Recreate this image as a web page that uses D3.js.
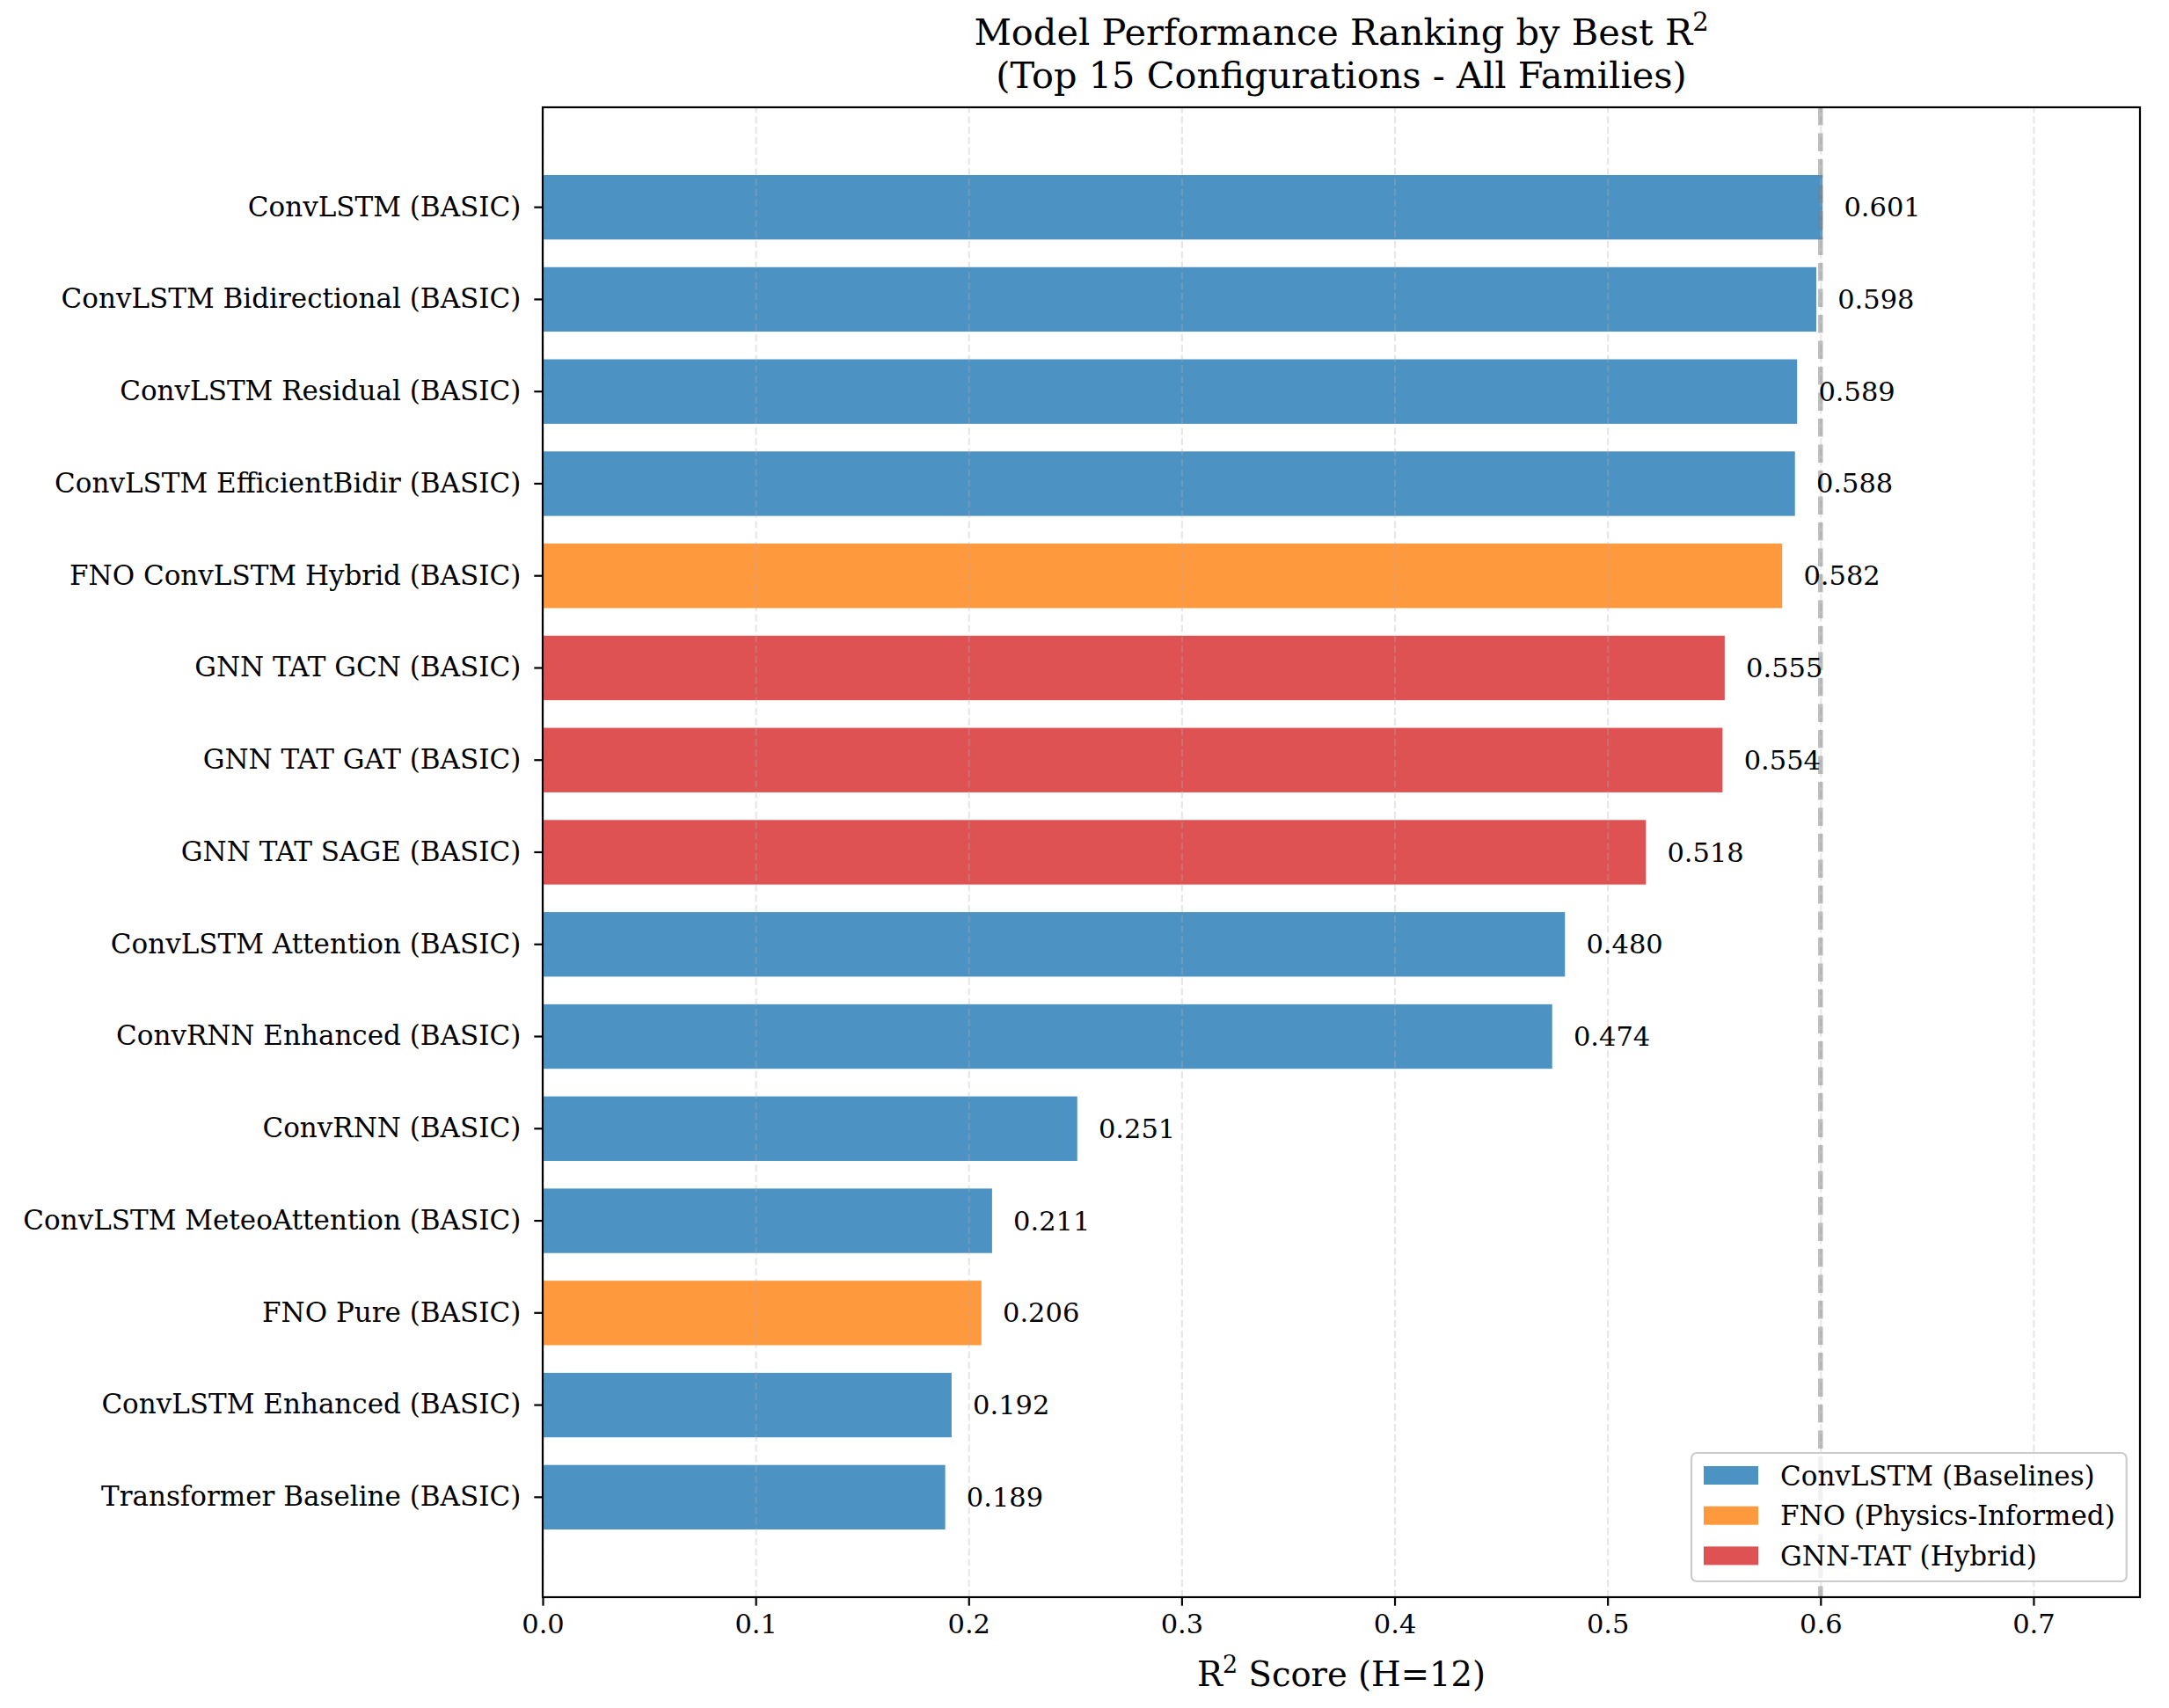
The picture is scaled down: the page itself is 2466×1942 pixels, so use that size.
<!DOCTYPE html>
<html>
<head>
<meta charset="utf-8">
<script src="https://cdn.jsdelivr.net/npm/d3@7"></script>
<style>
  body { margin: 0; background: #fff; }
  svg { display: block; font-family: "DejaVu Serif", serif; }
</style>
</head>
<body>
<div id="chart"></div>
<script>
const models = [
    "ConvLSTM (BASIC)",
    "ConvLSTM Bidirectional (BASIC)",
    "ConvLSTM Residual (BASIC)",
    "ConvLSTM EfficientBidir (BASIC)",
    "FNO ConvLSTM Hybrid (BASIC)",
    "GNN TAT GCN (BASIC)",
    "GNN TAT GAT (BASIC)",
    "GNN TAT SAGE (BASIC)",
    "ConvLSTM Attention (BASIC)",
    "ConvRNN Enhanced (BASIC)",
    "ConvRNN (BASIC)",
    "ConvLSTM MeteoAttention (BASIC)",
    "FNO Pure (BASIC)",
    "ConvLSTM Enhanced (BASIC)",
    "Transformer Baseline (BASIC)"
];
const r2Scores = [0.601, 0.598, 0.589, 0.588, 0.582, 0.555, 0.554, 0.518, 0.480, 0.474, 0.251, 0.211, 0.206, 0.192, 0.189];
const families = ["ConvLSTM", "ConvLSTM", "ConvLSTM", "ConvLSTM", "FNO", "GNN", "GNN", "GNN",
                  "ConvLSTM", "ConvLSTM", "ConvLSTM", "ConvLSTM", "FNO", "ConvLSTM", "ConvLSTM"];
const familyKeys = ["ConvLSTM", "FNO", "GNN"];
const familyLabels = ["ConvLSTM (Baselines)", "FNO (Physics-Informed)", "GNN-TAT (Hybrid)"];
const xTicks = [0.0, 0.1, 0.2, 0.3, 0.4, 0.5, 0.6, 0.7];
const refLine = 0.6;

const data = models.map((m, i) => ({ model: m, r2: r2Scores[i], family: families[i] }));

const W = 2466, H = 1942;
const plot = { left: 617, right: 2433, top: 122, bottom: 1816 };

const color = d3.scaleOrdinal()
    .domain(familyKeys)
    .range(["#4c92c3", "#ff993e", "#de5253"]);

const svg = d3.select("#chart")
    .append("svg")
    .attr("width", W)
    .attr("height", H);

svg.append("rect").attr("width", W).attr("height", H).attr("fill", "#fff");

const x = d3.scaleLinear()
    .domain([0, 0.75])
    .range([plot.left, plot.right]);

const y = d3.scaleBand()
    .domain(models)
    .range([plot.top, plot.bottom])
    .paddingInner(0.3)
    .paddingOuter(0.735);

// bars
svg.selectAll(".bar")
    .data(data)
    .enter()
    .append("rect")
    .attr("class", "bar")
    .attr("x", x(0))
    .attr("y", d => y(d.model))
    .attr("width", d => x(d.r2) - x(0))
    .attr("height", y.bandwidth())
    .attr("fill", d => color(d.family));

// grid on x, drawn over bars like matplotlib
svg.append("g")
    .attr("transform", `translate(0,${plot.bottom})`)
    .call(d3.axisBottom(x).tickValues(xTicks).tickSize(-(plot.bottom - plot.top)).tickFormat(""))
    .call(g => g.select(".domain").remove())
    .selectAll("line")
    .attr("stroke", "#b0b0b0")
    .attr("stroke-opacity", 0.3)
    .attr("stroke-width", 2.2)
    .attr("stroke-dasharray", "8.2,3.6");

// reference line at 0.6
svg.append("line")
    .attr("x1", x(refLine))
    .attr("x2", x(refLine))
    .attr("y1", plot.top)
    .attr("y2", plot.bottom)
    .attr("stroke", "#808080")
    .attr("stroke-opacity", 0.5)
    .attr("stroke-width", 5.5)
    .attr("stroke-dasharray", "20.6,8.9");

// value labels
svg.selectAll(".val")
    .data(data)
    .enter()
    .append("text")
    .attr("class", "val")
    .attr("x", d => x(d.r2 + 0.01))
    .attr("y", d => y(d.model) + y.bandwidth() / 2)
    .attr("dominant-baseline", "central")
    .attr("font-size", "30.5px")
    .attr("fill", "#000")
    .text(d => d.r2.toFixed(3));

// axes
const xAxis = svg.append("g")
    .attr("transform", `translate(0,${plot.bottom})`)
    .call(d3.axisBottom(x).tickValues(xTicks).tickFormat(d3.format(".1f")).tickSizeOuter(0).tickSize(9.7).tickPadding(9.7));
xAxis.select(".domain").remove();
xAxis.selectAll("line").attr("stroke", "#000").attr("stroke-width", 2.2);
xAxis.selectAll("text")
    .attr("font-size", "30.5px")
    .attr("font-family", "DejaVu Serif")
    .attr("fill", "#000");

const yAxis = svg.append("g")
    .attr("transform", `translate(${plot.left},0)`)
    .call(d3.axisLeft(y).tickSizeOuter(0).tickSize(9.7).tickPadding(15));
yAxis.select(".domain").remove();
yAxis.selectAll("line").attr("stroke", "#000").attr("stroke-width", 2.2);
yAxis.selectAll("text")
    .attr("font-size", "31px")
    .attr("font-family", "DejaVu Serif")
    .attr("fill", "#000");

// frame
svg.append("rect")
    .attr("x", plot.left)
    .attr("y", plot.top)
    .attr("width", plot.right - plot.left)
    .attr("height", plot.bottom - plot.top)
    .attr("fill", "none")
    .attr("stroke", "#000")
    .attr("stroke-width", 2.2);

// title
const cx = (plot.left + plot.right) / 2;
const t1 = svg.append("text")
    .attr("x", cx)
    .attr("y", 51)
    .attr("text-anchor", "middle")
    .attr("font-size", "41.5px");
t1.append("tspan").text("Model Performance Ranking by Best R");
t1.append("tspan").attr("font-size", "29px").attr("dy", -16).text("2");

svg.append("text")
    .attr("x", cx)
    .attr("y", 100)
    .attr("text-anchor", "middle")
    .attr("font-size", "41.5px")
    .text("(Top 15 Configurations - All Families)");

// x label
const xl = svg.append("text")
    .attr("x", cx)
    .attr("y", 1917)
    .attr("text-anchor", "middle")
    .attr("font-size", "38.5px");
xl.append("tspan").text("R");
xl.append("tspan").attr("font-size", "27px").attr("dy", -15).text("2");
xl.append("tspan").attr("dy", 15).text(" Score (H=12)");

// legend
const legend = svg.append("g");
legend.append("rect")
    .attr("x", 1923)
    .attr("y", 1652)
    .attr("width", 2417.7 - 1923)
    .attr("height", 1798 - 1652)
    .attr("rx", 6)
    .attr("fill", "#fff")
    .attr("fill-opacity", 0.8)
    .attr("stroke", "#cccccc")
    .attr("stroke-width", 2.2);

const item = legend.selectAll(".item")
    .data(familyKeys)
    .enter()
    .append("g")
    .attr("class", "item")
    .attr("transform", (d, i) => `translate(1937,${1677.5 + i * 45.7})`);

item.append("rect")
    .attr("x", 0)
    .attr("y", -10.5)
    .attr("width", 62)
    .attr("height", 21)
    .attr("fill", d => color(d));

item.append("text")
    .attr("x", 87)
    .attr("y", 0)
    .attr("dominant-baseline", "central")
    .attr("font-size", "31px")
    .text((d, i) => familyLabels[i]);
</script>
</body>
</html>
